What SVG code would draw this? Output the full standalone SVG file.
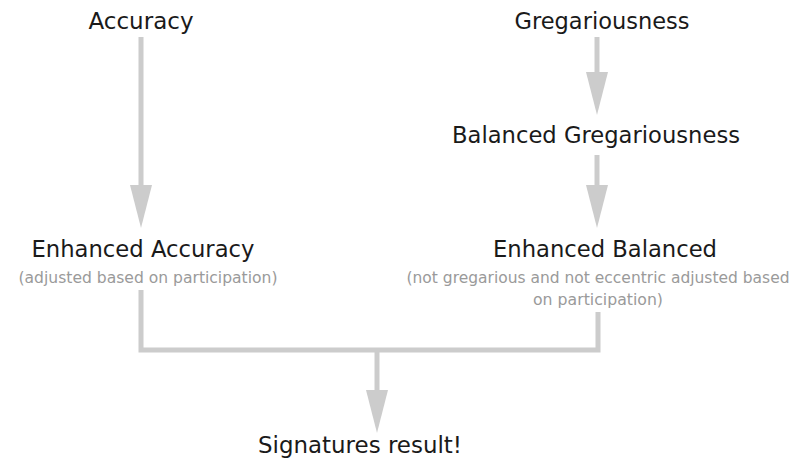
<svg xmlns="http://www.w3.org/2000/svg" width="807" height="462" viewBox="0 0 807 462">
<style>
.t{font-family:"DejaVu Sans","Liberation Sans",sans-serif;font-size:23px;fill:#1a1a1a;text-anchor:middle}
.s{font-family:"DejaVu Sans","Liberation Sans",sans-serif;font-size:15.5px;fill:#9a9a9a;text-anchor:middle}
.c{stroke:#cccccc;stroke-width:5;fill:none}
.h{fill:#cccccc}
</style>
<rect width="807" height="462" fill="#ffffff"/>
<g id="connectors">
<path class="c" d="M141 37V186"/><polygon class="h" points="130,185 152,185 141,228"/>
<path class="c" d="M597 37V73"/><polygon class="h" points="586,72 608,72 597,115"/>
<path class="c" d="M597 155V186"/><polygon class="h" points="586,185 608,185 597,228"/>
<path class="c" d="M141 290V350H598V312"/>
<path class="c" d="M377 350V391"/><polygon class="h" points="366,390 388,390 377,433"/>
</g>
<g id="accuracy"><text class="t" x="141" y="29" textLength="105" lengthAdjust="spacingAndGlyphs">Accuracy</text></g>
<g id="gregariousness"><text class="t" x="602" y="29" textLength="175" lengthAdjust="spacingAndGlyphs">Gregariousness</text></g>
<g id="balanced-gregariousness"><text class="t" x="596" y="143" textLength="288" lengthAdjust="spacingAndGlyphs">Balanced Gregariousness</text></g>
<g id="enhanced-accuracy"><text class="t" x="143" y="257" textLength="223" lengthAdjust="spacingAndGlyphs">Enhanced Accuracy</text>
<text class="s" x="148" y="283" textLength="259" lengthAdjust="spacingAndGlyphs">(adjusted based on participation)</text></g>
<g id="enhanced-balanced"><text class="t" x="605" y="257" textLength="224" lengthAdjust="spacingAndGlyphs">Enhanced Balanced</text>
<text class="s" x="598" y="283" textLength="383" lengthAdjust="spacingAndGlyphs">(not gregarious and not eccentric adjusted based</text>
<text class="s" x="598" y="305" textLength="130" lengthAdjust="spacingAndGlyphs">on participation)</text></g>
<g id="signatures-result"><text class="t" x="360" y="453" textLength="204" lengthAdjust="spacingAndGlyphs">Signatures result!</text></g>
</svg>
